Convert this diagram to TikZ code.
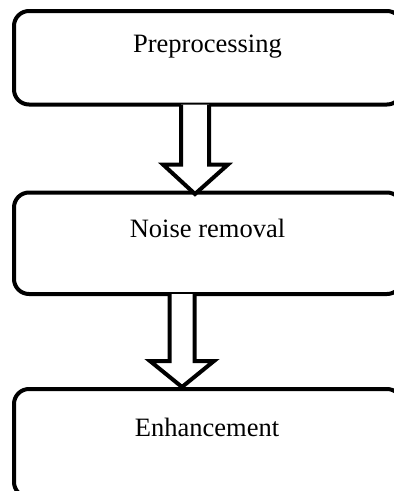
\documentclass[tikz,border=0pt]{standalone}
\usepackage{fontspec}
\setmainfont{Liberation Serif}
\usetikzlibrary{calc}
\begin{document}
\begin{tikzpicture}[x=1pt,y=-1pt,
  boxstyle/.style={draw=black,line width=4pt,rounded corners=15pt,rectangle,
    inner sep=0pt,outer sep=0pt,minimum width=388pt,anchor=north west},
  blockarrow/.style={draw=black,line width=4pt,line join=miter,fill=white},
  labelstyle/.style={font=\fontsize{26.5}{30}\selectfont,anchor=base,inner sep=0pt}]
\useasboundingbox (0,0) rectangle (394,491);
\clip (0,0) rectangle (394,491);
% boxes
\node[boxstyle,minimum height=93.5pt] (b1) at (14,11) {};
\node[boxstyle,minimum height=101.5pt] (b2) at (14,192.5) {};
\node[boxstyle,minimum height=108pt] (b3) at (14,389) {};
% labels
\node[labelstyle] (t1) at (207.5,52) {Preprocessing};
\node[labelstyle] (t2) at (207.5,237) {Noise removal};
\node[labelstyle] (t3) at (207,436) {Enhancement};
% block arrows (shaft from box bottom, tip on next box top)
\draw[blockarrow] ($(b1.south west)+(167,0)$) -- (181,164.5) -- (163,164.5)
  -- ($(b2.north west)+(181,1.5)$) -- (228,164.5) -- (209,164.5) -- ($(b1.south west)+(195,0)$);
\draw[blockarrow] ($(b2.south west)+(155.5,0)$) -- (169.5,361) -- (150,361)
  -- ($(b3.north west)+(168,-2)$) -- (214,361) -- (194.5,361) -- ($(b2.south west)+(180.5,0)$);
\end{tikzpicture}
\end{document}
